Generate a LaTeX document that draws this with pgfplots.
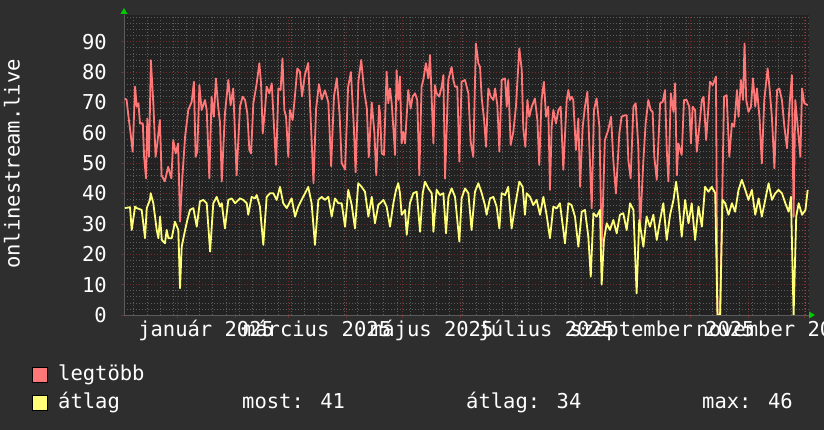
\documentclass[border=0pt]{standalone}
\usepackage{fontspec}
\setmainfont{DejaVu Sans Mono}
\usepackage{pgfplots}
\usepackage{pgfplotstable}
\pgfplotsset{compat=1.18}

\definecolor{canvas}{RGB}{46,46,46}
\definecolor{plotbg}{RGB}{34,34,34}
\definecolor{mingrid}{RGB}{92,92,92}
\definecolor{majgrid}{RGB}{120,42,42}
\definecolor{legred}{RGB}{255,119,119}
\definecolor{legyel}{RGB}{255,255,119}
\definecolor{arrowgreen}{RGB}{0,204,0}

\newcommand{\lbl}{\fontsize{20.5}{25}\selectfont}

% day 0 = 2025-01-01
\pgfplotstableread{
day val
-27.7 71.3
-26.8 70.8
-25.9 65.8
-24.7 59.8
-23.6 53.8
-22.3 75.2
-21.4 68.6
-20.5 69.7
-19.7 63.1
-18.2 63.1
-17.5 52.1
-16.5 45.0
-15.8 64.7
-14.9 52.1
-13.9 83.9
-12.6 69.7
-11.4 52.1
-10.5 56.5
-9.1 64.2
-8.2 46.0
-6.5 44.0
-4.7 48.8
-3.0 45.0
-2.0 57.6
-0.7 53.2
0.6 56.5
1.6 30.7
2.8 45.0
4.3 58.7
6.0 67.5
7.8 70.2
9.0 76.8
9.9 52.1
10.8 53.8
11.9 75.7
13.1 67.5
14.9 70.8
15.8 67.5
17.2 45.0
18.4 71.9
19.6 65.3
20.7 77.9
21.9 68.6
22.9 63.1
23.8 44.0
25.5 66.4
27.3 77.4
28.5 69.1
29.9 74.6
31.7 46.0
33.5 68.6
34.9 71.9
36.2 70.8
37.4 66.4
38.5 54.3
39.4 53.2
40.6 69.7
42.4 76.3
43.8 82.9
44.7 76.3
45.6 59.8
46.8 67.5
47.7 75.2
49.1 73.0
50.4 76.3
51.6 62.0
52.7 49.4
53.9 74.6
55.1 74.1
56.1 84.5
57.1 67.5
58.0 65.3
59.2 52.1
60.1 67.5
61.5 64.2
62.7 71.9
64.0 81.2
65.4 80.1
66.5 72.0
68.0 79.0
69.8 83.0
71.0 66.0
72.6 43.4
74.0 68.0
75.5 76.0
77.0 71.0
78.7 74.0
80.5 70.0
82.0 49.0
83.5 72.0
85.0 78.0
86.5 66.0
87.6 50.0
89.4 48.0
91.0 75.0
92.5 80.0
94.0 63.0
95.0 47.0
96.5 77.0
98.0 84.0
99.5 74.0
101.0 68.0
102.0 52.0
103.6 70.0
105.0 60.0
106.0 46.0
107.5 69.0
108.0 66.4
108.9 53.2
110.1 52.7
111.5 80.1
112.4 69.7
113.3 74.6
114.2 69.7
115.1 61.4
116.0 52.7
116.8 80.6
117.7 70.8
118.6 78.5
119.5 56.5
120.4 60.3
121.3 56.5
123.0 74.1
124.3 68.0
125.3 71.9
126.6 73.0
127.8 70.8
128.9 46.0
130.1 75.2
131.0 77.4
132.4 82.9
133.7 77.9
134.6 85.6
135.5 70.8
136.4 56.5
137.2 75.7
138.1 73.0
139.5 71.9
140.8 75.2
141.7 79.0
142.6 44.9
144.3 77.4
146.1 81.7
147.0 77.4
147.9 75.2
149.1 75.2
150.2 50.5
151.4 76.8
153.2 77.4
155.0 73.0
156.2 57.1
157.6 52.1
159.0 89.4
160.3 82.9
161.2 81.7
162.1 71.3
163.3 64.7
164.4 55.4
165.6 74.6
166.9 71.9
168.3 70.8
169.2 74.6
170.4 69.1
171.5 53.8
172.7 77.4
174.5 77.9
175.4 68.6
176.2 77.4
177.5 56.0
178.9 60.3
180.3 68.6
182.1 87.8
183.4 80.6
184.2 61.4
185.3 55.4
186.4 70.8
187.4 65.3
188.7 68.6
190.4 71.3
191.7 64.2
192.7 49.4
193.9 70.8
195.2 76.8
196.3 65.3
197.5 68.6
198.4 41.2
199.3 62.0
200.2 67.5
201.6 63.1
202.9 67.5
204.1 68.6
205.5 47.8
207.3 70.8
208.2 74.1
209.0 70.8
209.9 71.9
210.8 70.8
212.2 54.3
213.5 64.7
214.4 42.2
215.8 62.0
217.0 68.6
218.3 73.5
219.3 56.5
220.6 35.1
221.8 67.5
223.2 71.3
224.7 62.0
225.9 22.5
227.6 57.6
229.4 60.9
230.9 65.3
232.1 51.0
233.5 40.0
235.3 59.8
236.5 65.3
238.3 65.8
239.2 65.8
240.1 51.0
241.3 45.0
242.8 68.6
244.0 69.7
245.4 55.4
246.3 28.0
248.1 51.0
249.3 63.1
250.7 70.8
252.0 67.5
253.0 66.9
253.9 52.1
255.2 44.5
257.0 69.7
258.4 70.2
259.6 74.1
260.5 54.9
261.4 44.0
262.7 73.0
264.1 66.9
265.0 76.3
265.9 46.0
266.7 56.5
268.5 52.7
269.7 70.8
271.1 70.8
272.5 68.6
273.4 56.5
274.3 68.6
275.6 67.5
276.5 53.8
277.9 62.5
279.2 70.8
280.1 71.9
281.5 57.6
282.7 68.6
283.5 76.8
285.0 75.7
286.7 78.5
287.5 0.0
288.9 0.0
291.0 71.9
292.4 72.4
293.8 52.1
295.2 63.1
296.4 62.0
297.9 74.1
298.7 65.3
300.0 77.4
301.1 70.8
301.9 89.4
302.8 70.8
304.0 66.9
305.3 68.6
306.4 77.9
307.6 68.6
308.5 74.6
309.9 64.7
311.1 49.9
312.4 70.8
314.2 81.2
315.3 74.1
316.5 64.7
317.8 48.3
319.2 74.1
320.4 74.6
321.8 70.8
323.1 62.0
324.5 54.9
325.9 69.7
327.1 79.0
328.0 32.4
328.9 70.8
330.2 62.0
331.6 52.1
332.5 74.6
333.7 69.7
335.5 69.1
}\maxtable

\pgfplotstableread{
day val
-27.7 35.2
-25.0 35.5
-24.1 28.0
-22.3 35.7
-21.4 35.2
-18.8 34.6
-17.0 25.3
-16.1 35.2
-14.4 37.9
-14.0 40.1
-12.6 36.8
-10.8 28.0
-9.9 25.3
-9.0 32.4
-8.1 24.7
-6.4 23.6
-5.5 28.0
-4.6 25.3
-2.8 25.3
-1.1 30.7
0.7 28.0
1.6 8.8
2.5 22.5
4.3 28.0
5.5 31.3
6.9 34.6
8.7 35.2
10.5 29.1
12.2 37.4
14.0 37.9
15.8 36.8
17.6 20.9
19.3 36.8
21.1 38.9
22.9 35.7
23.8 36.8
25.5 28.5
27.3 37.9
29.1 38.4
30.9 36.8
33.5 38.4
35.3 37.9
37.1 36.8
37.9 33.0
39.7 38.9
41.5 38.4
42.4 39.5
44.1 35.7
45.9 23.1
47.7 38.9
49.5 40.1
51.2 40.1
53.0 37.9
54.8 42.2
56.5 36.8
58.4 35.2
61.0 38.4
62.8 32.4
64.5 35.7
66.3 37.9
68.1 40.1
69.8 42.2
71.6 36.8
73.4 23.1
75.2 37.9
77.0 38.9
78.7 37.9
80.5 38.9
82.3 32.4
84.0 38.4
85.8 36.8
87.6 36.8
89.4 29.1
91.1 41.2
92.9 36.3
94.7 28.5
96.4 43.4
98.2 42.2
100.0 40.6
101.8 32.4
103.6 38.9
105.3 30.2
107.1 36.3
108.0 36.8
109.8 37.9
111.5 35.7
113.3 29.1
115.1 36.8
116.5 41.2
117.7 43.4
118.6 40.1
119.5 33.0
121.3 34.6
122.2 26.4
123.9 36.8
125.7 40.1
127.5 40.6
129.3 27.4
130.7 40.1
131.9 43.9
133.7 41.7
135.5 40.1
136.4 27.4
138.1 41.2
139.9 39.5
141.7 40.1
143.1 26.9
144.4 38.9
146.1 41.7
147.9 38.9
150.2 24.2
151.4 38.4
153.2 41.7
155.0 40.1
156.7 28.0
158.5 40.6
160.3 43.4
162.1 40.1
163.8 36.2
164.7 33.0
166.5 38.4
168.3 38.9
170.0 35.7
171.5 28.5
172.7 40.1
174.5 39.5
176.2 42.2
178.0 28.5
179.8 35.7
182.1 43.9
183.9 42.2
185.1 33.0
186.0 40.1
187.8 38.9
189.5 36.2
191.3 37.9
193.1 33.0
194.9 38.9
196.6 33.0
198.4 25.3
200.2 35.7
202.0 35.1
203.7 36.8
206.4 23.6
208.2 36.8
209.9 36.2
211.7 32.4
213.5 22.5
215.3 34.0
217.0 34.6
218.8 25.8
220.1 12.6
221.5 33.5
223.2 32.4
225.0 34.6
225.9 10.0
227.1 24.7
228.6 30.2
230.3 28.0
232.1 31.3
233.9 26.9
235.6 33.0
237.4 33.5
239.2 28.0
241.0 36.8
242.8 34.6
244.5 7.1
245.9 31.3
248.1 22.5
249.8 32.4
251.6 29.1
253.4 33.0
255.2 24.7
257.0 31.3
258.7 36.8
260.5 24.7
262.3 33.0
264.1 37.9
265.5 43.9
266.7 37.9
268.5 25.8
270.3 37.9
272.1 30.2
273.8 36.8
275.6 24.7
277.4 35.7
279.2 29.1
280.9 42.2
282.7 40.6
284.5 42.2
286.3 40.1
287.5 0.0
288.9 0.0
290.2 37.9
291.6 36.8
293.4 33.0
295.2 36.8
296.9 34.0
298.7 41.2
300.5 44.5
302.3 41.2
304.0 37.9
305.8 41.2
307.6 33.0
309.4 38.4
311.1 32.4
312.9 37.9
314.7 43.4
316.5 37.9
318.3 40.1
320.0 41.2
321.8 40.1
323.6 36.8
325.4 34.0
326.6 38.9
328.0 0.0
329.4 32.4
330.7 36.8
332.5 33.0
334.3 34.6
335.5 41.2
}\avgtable

\begin{document}
\begin{tikzpicture}
\fill[canvas] (-124pt,-115pt) rectangle (700pt,315pt);
\path[use as bounding box] (-124pt,-115pt) rectangle (700pt,315pt);
\begin{axis}[
at={(0pt,0pt)}, anchor=south west,
scale only axis, width=685pt, height=300pt,
xmin=-28.2, xmax=336.2, ymin=0, ymax=98.8,
axis background/.style={fill=plotbg},
axis lines*=left,
axis line style={draw=mingrid, line width=0.8pt},
xtick={0,31,59,90,120,151,181,212,243,273,304,334},
xticklabels={},
minor xtick={-23,-16,...,334},
ytick={0,10,...,90},
minor ytick={2,4,...,98},
grid=both,
major grid style={draw=majgrid, line width=0.8pt, dash pattern=on 1pt off 2pt},
minor grid style={draw=mingrid, line width=0.7pt, dash pattern=on 1pt off 2pt},
tick align=outside,
major tick length=3pt, minor tick length=0pt,
every tick/.style={draw=majgrid, line width=0.8pt},
/pgf/number format/assume math mode=true,
yticklabel style={font=\lbl, text=white, anchor=east, inner sep=0pt, xshift=-14pt},
extra x ticks={15.5,74.5,135.5,196.5,258,319},
extra x tick labels={január 2025,március 2025,május 2025,július 2025,szeptember 2025,november 2025},
extra x tick style={grid=none, major tick length=0pt,
  xticklabel style={font=\lbl, text=white, anchor=base, inner sep=0pt, yshift=-22pt}},
clip=true,
]
\addplot[legred, line width=1.8pt, line join=round] table[x=day, y=val] {\maxtable};
\addplot[legyel, line width=1.8pt, line join=round] table[x=day, y=val] {\avgtable};
\end{axis}
% axis arrows
\fill[arrowgreen] (0pt,307pt) -- (-3.5pt,301pt) -- (3.5pt,301pt) -- cycle;
\fill[arrowgreen] (691pt,0pt) -- (685pt,3.5pt) -- (685pt,-3.5pt) -- cycle;
% y label
\node[rotate=90, text=white, font=\lbl, inner sep=0pt] at (-112pt,151pt) {onlinestream.live};
% legend
\fill[legred, draw=black, line width=0.8pt] (-92pt,-67pt) rectangle (-77pt,-52pt);
\fill[legyel, draw=black, line width=0.8pt] (-92pt,-95pt) rectangle (-77pt,-80pt);
\node[anchor=base west, text=white, font=\lbl, inner sep=0pt] at (-66pt,-66pt) {legtöbb};
\node[anchor=base west, text=white, font=\lbl, inner sep=0pt] at (-66pt,-94pt) {átlag};
\node[anchor=base west, text=white, font=\lbl, inner sep=0pt] at (118pt,-94pt) {most: 41};
\node[anchor=base west, text=white, font=\lbl, inner sep=0pt] at (342pt,-94pt) {átlag: 34};
\node[anchor=base west, text=white, font=\lbl, inner sep=0pt] at (578pt,-94pt) {max: 46};
\end{tikzpicture}
\end{document}
